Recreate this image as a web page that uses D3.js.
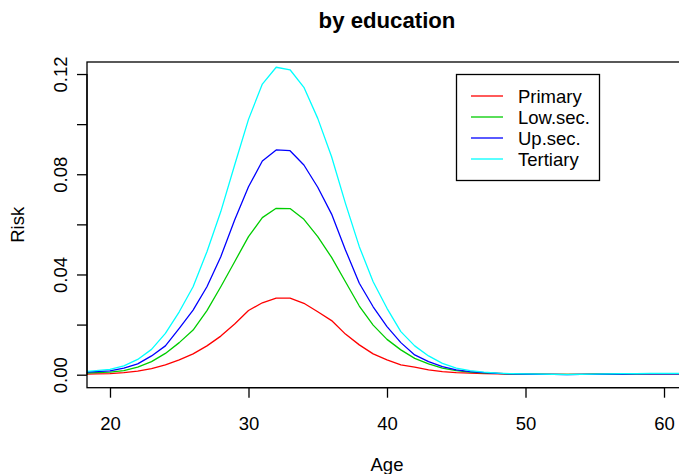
<!DOCTYPE html>
<html>
<head>
<meta charset="utf-8">
<script src="https://cdn.jsdelivr.net/npm/d3@7"></script>
<style>
  html, body { margin: 0; padding: 0; background: #fff; }
  svg { display: block; }
  text { font-family: "Liberation Sans", Arial, Helvetica, sans-serif; fill: #000; }
</style>
</head>
<body>
<svg id="chart" width="679" height="474"></svg>
<script>
// Age grid (years) and risk by education level
const ages = [18, 19, 20, 21, 22, 23, 24, 25, 26, 27, 28, 29, 30, 31, 32, 33, 34, 35, 36, 37, 38, 39, 40,
              41, 42, 43, 44, 45, 46, 47, 48, 49, 50, 51, 52, 53, 54, 55, 56, 57, 58, 59, 60, 61, 62];

const primary  = [0.0002, 0.0003, 0.0004, 0.0008, 0.0014, 0.0024, 0.0039, 0.0059, 0.0083, 0.0115, 0.0154, 0.0202, 0.0256, 0.0287, 0.0306, 0.0306, 0.0285, 0.0251, 0.0216, 0.0162, 0.0119, 0.0083, 0.0059,
                  0.0039, 0.0030, 0.0019, 0.0012, 0.0008, 0.0006, 0.0004, 0.0003, 0.0002, 0.0002, 0.0001, 0.0001, 0.0001, 0.0001, 0.0002, 0.0002, 0.0002, 0.0003, 0.0003, 0.0003, 0.0003, 0.0003];
const lowSec   = [0.0006, 0.0008, 0.0010, 0.0016, 0.0030, 0.0052, 0.0085, 0.0128, 0.0178, 0.0256, 0.0351, 0.0451, 0.0551, 0.0627, 0.0664, 0.0663, 0.0620, 0.0551, 0.0468, 0.0371, 0.0274, 0.0198, 0.0141,
                  0.0099, 0.0065, 0.0043, 0.0026, 0.0016, 0.0010, 0.0007, 0.0005, 0.0003, 0.0002, 0.0002, 0.0001, 0.0001, 0.0001, 0.0002, 0.0002, 0.0003, 0.0003, 0.0004, 0.0004, 0.0004, 0.0004];
const upSec    = [0.0010, 0.0012, 0.0015, 0.0026, 0.0043, 0.0075, 0.0115, 0.0185, 0.0258, 0.0351, 0.0471, 0.0617, 0.0750, 0.0853, 0.0897, 0.0894, 0.0837, 0.0748, 0.0641, 0.0498, 0.0365, 0.0271, 0.0192,
                  0.0128, 0.0079, 0.0052, 0.0032, 0.0019, 0.0012, 0.0008, 0.0005, 0.0003, 0.0002, 0.0001, 0.0001, 0.0000, 0.0001, 0.0001, 0.0002, 0.0002, 0.0003, 0.0003, 0.0003, 0.0003, 0.0003];
const tertiary = [0.0012, 0.0016, 0.0021, 0.0035, 0.0061, 0.0101, 0.0165, 0.0251, 0.0351, 0.0491, 0.0651, 0.0837, 0.1019, 0.1160, 0.1227, 0.1217, 0.1147, 0.1023, 0.0870, 0.0684, 0.0511, 0.0371, 0.0265,
                  0.0172, 0.0115, 0.0075, 0.0045, 0.0026, 0.0016, 0.0010, 0.0006, 0.0004, 0.0003, 0.0002, 0.0001, 0.0000, 0.0001, 0.0002, 0.0003, 0.0004, 0.0004, 0.0005, 0.0005, 0.0005, 0.0005];

const seriesNames  = ["Primary", "Low.sec.", "Up.sec.", "Tertiary"];
const seriesValues = [primary, lowSec, upSec, tertiary];
const seriesColors = ["#ff0000", "#00cd00", "#0000ff", "#00ffff"];

const xTicks = [20, 30, 40, 50, 60];
const yTicks = [0, 0.02, 0.04, 0.06, 0.08, 0.10, 0.12];
const yTickLabels = ["0.00", "", "0.04", "", "0.08", "", "0.12"];

const svg = d3.select("#chart");

// plotting region
const plotLeft = 87, plotRight = 687, plotTop = 62, plotBottom = 387.7;

const x = d3.scaleLinear().domain([18.34, 61.66]).range([plotLeft, plotRight]);
const y = d3.scaleLinear().domain([-0.00519, 0.1248]).range([plotBottom, plotTop]);

const fontSize = 18.5;

svg.append("defs").append("clipPath").attr("id", "plotclip")
  .append("rect").attr("x", plotLeft).attr("y", plotTop)
  .attr("width", plotRight - plotLeft).attr("height", plotBottom - plotTop);

// series lines
const line = d3.line().x((d, i) => x(ages[i])).y(d => y(d));
const lines = svg.append("g").attr("clip-path", "url(#plotclip)");
seriesValues.forEach((vals, k) => {
  lines.append("path")
    .attr("d", line(vals))
    .attr("fill", "none")
    .attr("stroke", seriesColors[k])
    .attr("stroke-width", 1.3)
    .attr("stroke-linejoin", "round");
});

// box
svg.append("rect")
  .attr("x", plotLeft).attr("y", plotTop)
  .attr("width", plotRight - plotLeft).attr("height", plotBottom - plotTop)
  .attr("fill", "none").attr("stroke", "#000").attr("stroke-width", 1.3);

// x axis
const xAxis = d3.axisBottom(x).tickValues(xTicks).tickSize(10).tickPadding(6)
  .tickFormat(d3.format("d"));
const gx = svg.append("g").attr("transform", `translate(0,${plotBottom})`).call(xAxis);
gx.select(".domain").attr("d", `M${x(20)},0H${x(60)}`).attr("stroke", "#000").attr("stroke-width", 1.3);
gx.selectAll(".tick line").attr("stroke", "#000").attr("stroke-width", 1.3);
gx.selectAll(".tick text")
  .attr("font-family", "Liberation Sans, Arial, sans-serif")
  .attr("font-size", fontSize).attr("fill", "#000")
  .attr("dy", null).attr("y", 42.5);

// y axis
const yAxis = d3.axisLeft(y).tickValues(yTicks).tickSize(10)
  .tickFormat((d, i) => yTickLabels[i]);
const gy = svg.append("g").attr("transform", `translate(${plotLeft},0)`).call(yAxis);
gy.select(".domain").attr("d", `M0,${y(0)}V${y(0.12)}`).attr("stroke", "#000").attr("stroke-width", 1.3);
gy.selectAll(".tick line").attr("stroke", "#000").attr("stroke-width", 1.3);
gy.selectAll(".tick text")
  .attr("font-family", "Liberation Sans, Arial, sans-serif")
  .attr("font-size", fontSize).attr("fill", "#000")
  .attr("x", null).attr("dy", null)
  .attr("text-anchor", "middle")
  .attr("transform", "translate(-20.5,0) rotate(-90)");

// title
svg.append("text")
  .attr("x", (plotLeft + plotRight) / 2).attr("y", 28)
  .attr("text-anchor", "middle")
  .attr("font-weight", "bold").attr("font-size", 22.2)
  .text("by education");

// axis titles
svg.append("text")
  .attr("x", (plotLeft + plotRight) / 2).attr("y", 471)
  .attr("text-anchor", "middle").attr("font-size", fontSize)
  .text("Age");
svg.append("text")
  .attr("transform", `translate(24,${(plotTop + plotBottom) / 2}) rotate(-90)`)
  .attr("text-anchor", "middle").attr("font-size", fontSize)
  .text("Risk");

// legend
const lg = svg.append("g");
lg.append("rect")
  .attr("x", 456.5).attr("y", 74.5).attr("width", 143).attr("height", 106)
  .attr("fill", "#fff").attr("stroke", "#000").attr("stroke-width", 1.3);
const rowY = d3.scaleLinear().domain([0, 3]).range([96, 159]);
seriesNames.forEach((name, k) => {
  lg.append("line")
    .attr("x1", 471).attr("x2", 503)
    .attr("y1", rowY(k)).attr("y2", rowY(k))
    .attr("stroke", seriesColors[k]).attr("stroke-width", 1.3);
  lg.append("text")
    .attr("x", 518).attr("y", rowY(k) + 6.6)
    .attr("font-size", fontSize)
    .text(name);
});
</script>
</body>
</html>
